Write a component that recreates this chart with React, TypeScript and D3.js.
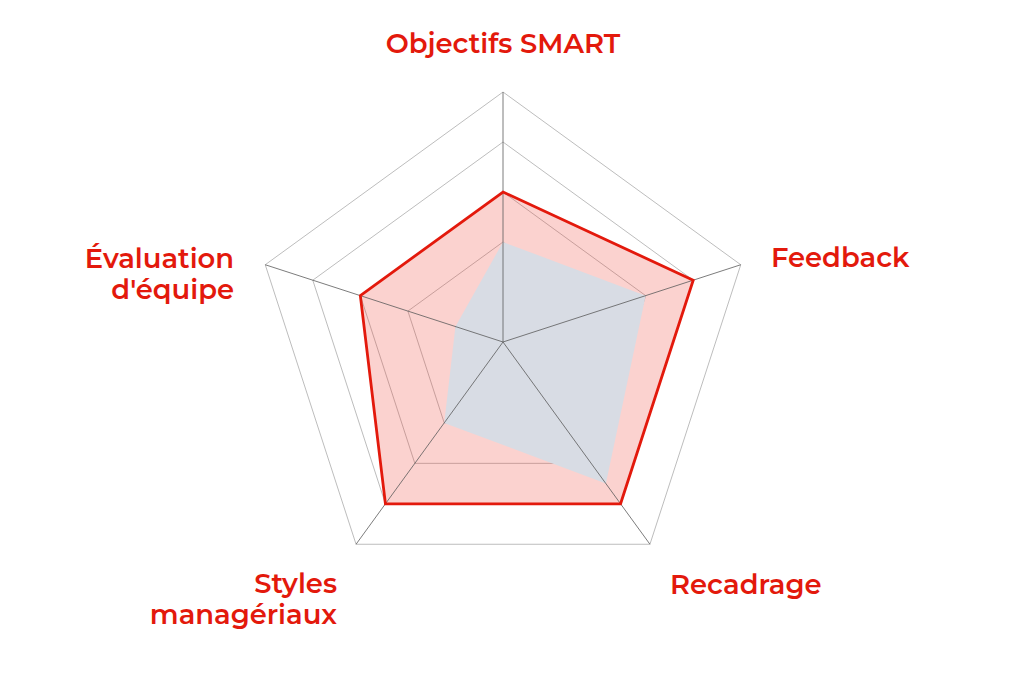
import { useEffect, useRef } from "react";
import * as d3 from "d3";

const axes = [ "Objectifs SMART", "Feedback", "Recadrage", "Styles managériaux", "Évaluation d'équipe" ];
const targetValues = [ 6, 8, 8, 8, 6 ];
const currentValues = [ 4, 6, 7, 4, 2 ];
const ringLevels = [ 2, 4, 6, 8, 10 ];
const maxValue = 10;

// label placement, one entry per axis
const labelLines = [
    [ "Objectifs SMART" ],
    [ "Feedback" ],
    [ "Recadrage" ],
    [ "Styles", "managériaux" ],
    [ "Évaluation", "d'équipe" ],
];
const labelPos: { x: number; y: number; anchor: string }[] = [
    { x: 503, y: 53, anchor: "middle" },
    { x: 771, y: 267, anchor: "start" },
    { x: 670, y: 594, anchor: "start" },
    { x: 337, y: 593, anchor: "end" },
    { x: 234, y: 268, anchor: "end" },
];

const W = 1024;
const H = 683;
const RED = "#e3190c";
const FONT = "Montserrat, 'Open Sans', sans-serif";

export default function App ()
{
    const svgRef = useRef<SVGSVGElement>( null );

    useEffect( () =>
    {
        if ( !svgRef.current ) return;
        const svg = d3.select( svgRef.current );
        svg.selectAll( "*" ).remove();

        const cx = 503;
        const cy = 342;
        const radius = 250;
        const n = axes.length;

        const r = d3.scaleLinear().domain( [ 0, maxValue ] ).range( [ 0, radius ] );
        const angle = ( i: number ) => ( i * 2 * Math.PI ) / n;

        const g = svg.append( "g" ).attr( "transform", `translate(${ cx },${ cy })` );

        const ringLine = d3.lineRadial<number>()
            .angle( ( _, i ) => angle( i ) )
            .radius( ( d ) => r( d ) )
            .curve( d3.curveLinearClosed );

        // grid rings
        g.selectAll( "path.ring" ).data( ringLevels ).join( "path" )
            .attr( "class", "ring" )
            .attr( "d", ( lvl ) => ringLine( axes.map( () => lvl ) ) )
            .attr( "fill", "none" )
            .attr( "stroke", "#bdbdbd" )
            .attr( "stroke-width", 1 );

        // target area (pink)
        g.append( "path" )
            .attr( "d", ringLine( targetValues ) )
            .attr( "fill", "#ec3b30" )
            .attr( "fill-opacity", 0.23 )
            .attr( "stroke", "none" );

        // current area (grey)
        g.append( "path" )
            .attr( "d", ringLine( currentValues ) )
            .attr( "fill", "#d8dce4" )
            .attr( "stroke", "none" );

        // axes
        g.selectAll( "line.axis" ).data( axes ).join( "line" )
            .attr( "class", "axis" )
            .attr( "x1", 0 ).attr( "y1", 0 )
            .attr( "x2", ( _, i ) => r( maxValue ) * Math.sin( angle( i ) ) )
            .attr( "y2", ( _, i ) => -r( maxValue ) * Math.cos( angle( i ) ) )
            .attr( "stroke", "#5a5a5a" )
            .attr( "stroke-width", 0.8 );

        // target outline
        g.append( "path" )
            .attr( "d", ringLine( targetValues ) )
            .attr( "fill", "none" )
            .attr( "stroke", RED )
            .attr( "stroke-width", 2.8 )
            .attr( "stroke-linejoin", "miter" );

        // labels
        labelLines.forEach( ( lines, i ) =>
        {
            const p = labelPos[ i ];
            const t = svg.append( "text" )
                .attr( "x", p.x ).attr( "y", p.y )
                .attr( "text-anchor", p.anchor )
                .attr( "fill", RED )
                .style( "font-family", FONT )
                .style( "font-size", "27.4px" )
                .style( "font-weight", "600" );
            lines.forEach( ( line, j ) =>
            {
                t.append( "tspan" ).attr( "x", p.x ).attr( "dy", j === 0 ? 0 : 31 ).text( line );
            } );
        } );
    }, [] );

    return (
        <svg ref={ svgRef } width={ W } height={ H }
            style={ { position: "absolute", left: 0, top: 0, background: "#fff" } } />
    );
}
